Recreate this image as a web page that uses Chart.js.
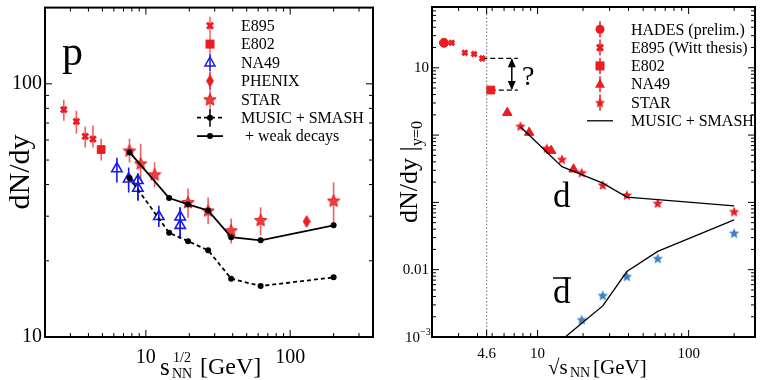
<!DOCTYPE html>
<html lang="en">
<head>
<meta charset="UTF-8">
<title>p and d yields vs energy</title>
<script src="https://cdn.jsdelivr.net/npm/chart.js@4/dist/chart.umd.min.js"></script>
<style>
  html, body { margin: 0; padding: 0; background: #fff; }
  #wrap { position: relative; width: 762px; height: 380px; }
  canvas { position: absolute; top: 0; }
  #left { left: 0; width: 390px; height: 380px; }
  #right { left: 390px; width: 372px; height: 380px; }
</style>
</head>
<body>
<div id="wrap">
  <canvas id="left" width="390" height="380"></canvas>
  <canvas id="right" width="372" height="380"></canvas>
</div>
<script>
// ---------- left panel: protons ----------
const e895Energy = [2.7, 3.3, 3.8, 4.3];
const e895P = [79, 71, 62, 60.5];
const e895PLo = [71.5, 63.6, 56, 56];
const e895PHi = [86.5, 78.3, 67.7, 68.4];

const e802Energy = [4.9];
const e802P = [55];
const e802PLo = [49.8];
const e802PHi = [60.7];

const na49Energy = [6.3, 7.6, 8.8, 8.8, 12.3, 17.3, 17.3];
const na49P = [46.2, 42.1, 41.5, 38.7, 29.9, 29.8, 27.6];
const na49PLo = [40.8, 37.2, 34.6, 34.6, 27.2, 24.5, 24.5];
const na49PHi = [51, 46.7, 44.2, 44.2, 33, 32.5, 32.5];

const phenixEnergy = [130];
const phenixP = [28.6];
const phenixPLo = [27.6];
const phenixPHi = [29.6];

const starEnergy = [7.7, 9.2, 11.5, 19.6, 27, 39, 62.4, 200];
const starP = [54.5, 48.5, 43.9, 34.1, 31.6, 26.4, 29.0, 34.6];
const starPLo = [48.9, 41.5, 39, 29.6, 27.9, 23.4, 25.2, 28.1];
const starPHi = [60.7, 58, 49, 38.6, 35.6, 29.4, 32.5, 40.8];

const modelEnergy = [7.7, 14.5, 19.6, 27, 39, 62.4, 200];
const modelP = [42.5, 25.8, 23.9, 22.0, 17.0, 15.9, 17.2];
const modelPWeak = [53.7, 35.4, 33.4, 31.6, 24.8, 24.1, 27.6];

const pTicksX = [10, 100];
const pTicksY = [10, 100];

// ---------- right panel: deuterons ----------
const hadesEnergy = [2.4];
const hadesD = [23.5];
const e895D = [23.5, 16.7, 16.0, 13.8];
const e802D = [4.67];
const na49DEnergy = [6.3, 8.8, 12.3, 17.3];
const na49D = [2.15, 1.09, 0.587, 0.311];
const starDEnergy = [7.7, 11.5, 14.5, 19.6, 27, 39, 62.4, 200];
const starD = [1.36, 0.638, 0.438, 0.277, 0.182, 0.129, 0.0975, 0.0731];
const modelD = [1.33, 0.340, 0.259, 0.193, 0.120, 0.110, 0.089];

const starAntiDEnergy = [19.6, 27, 39, 62.4, 200];
const starAntiD = [0.00181, 0.00416, 0.00796, 0.0147, 0.035];
const modelAntiDEnergy = [14.5, 19.6, 27, 39, 62.4, 200];
const modelAntiD = [0.00091, 0.0016, 0.0029, 0.0094, 0.0187, 0.0551];

const dTicksX = [4.6, 10, 100];
const dTicksY = [0.001, 0.01, 10];

const SERIF = '"Liberation Serif", "Times New Roman", serif';
Chart.defaults.font.family = SERIF;
Chart.defaults.color = '#000';

const RED = 'rgb(236,28,36)';
const RED_BAR = 'rgba(236,40,40,0.75)';
const BLUE = 'rgb(25,25,235)';
const SKY = 'rgb(58,128,196)';

function pts(xs, ys) {
    return xs.map((x, i) => ({ x: x, y: ys[i] }));
}

// five pointed star as a point style
function starImg(size, fill, edge) {
    const c = document.createElement('canvas');
    c.width = c.height = size;
    const g = c.getContext('2d');
    const r = size / 2 - 0.5, ri = r * 0.45, cx = size / 2, cy = size / 2 + r * 0.1;
    g.beginPath();
    for (let i = 0; i < 10; i++) {
        const a = -Math.PI / 2 + i * Math.PI / 5;
        const rr = i % 2 ? ri : r;
        g.lineTo(cx + rr * Math.cos(a), cy + rr * Math.sin(a));
    }
    g.closePath();
    g.fillStyle = fill;
    g.fill();
    if (edge) { g.strokeStyle = edge; g.lineWidth = 1; g.stroke(); }
    return c;
}

function diamondImg(w, h, fill) {
    const c = document.createElement('canvas');
    c.width = w; c.height = h;
    const g = c.getContext('2d');
    g.beginPath();
    g.moveTo(w / 2, 0); g.lineTo(w, h / 2); g.lineTo(w / 2, h); g.lineTo(0, h / 2);
    g.closePath();
    g.fillStyle = fill;
    g.fill();
    return c;
}

const starBig = starImg(14, 'rgb(240,60,60)', 'rgb(225,30,30)');
const starSmall = starImg(12, RED);
const starBlue = starImg(12, SKY);
const diamond = diamondImg(8, 13, RED);

// marks used in the hand drawn legends
function mark(ctx, kind, x, y, color) {
    ctx.save();
    ctx.fillStyle = color; ctx.strokeStyle = color;
    if (kind === 'x') {
        ctx.lineWidth = 3;
        ctx.beginPath();
        ctx.moveTo(x - 3, y - 3); ctx.lineTo(x + 3, y + 3);
        ctx.moveTo(x + 3, y - 3); ctx.lineTo(x - 3, y + 3);
        ctx.stroke();
    } else if (kind === 'sq') {
        ctx.fillRect(x - 4.5, y - 4.5, 9, 9);
    } else if (kind === 'tri' || kind === 'otri') {
        ctx.beginPath();
        ctx.moveTo(x, y - 5.5); ctx.lineTo(x + 5, y + 3.5); ctx.lineTo(x - 5, y + 3.5);
        ctx.closePath();
        if (kind === 'tri') ctx.fill(); else { ctx.lineWidth = 1.5; ctx.stroke(); }
    } else if (kind === 'circ') {
        ctx.beginPath(); ctx.arc(x, y, 4.5, 0, Math.PI * 2); ctx.fill();
    } else if (kind && kind.width) {
        ctx.drawImage(kind, x - kind.width / 2, y - kind.height / 2);
    }
    ctx.restore();
}

function drawLegend(ctx, items, sx, tx, y0, dy) {
    ctx.save();
    ctx.font = '16px ' + SERIF;
    ctx.textBaseline = 'middle';
    items.forEach((it, i) => {
        const y = y0 + i * dy;
        if (it.line) {
            ctx.strokeStyle = '#000'; ctx.lineWidth = it.lw || 1.8;
            ctx.setLineDash(it.line === 'dash' ? [4, 3] : []);
            ctx.beginPath(); ctx.moveTo(sx - 13, y); ctx.lineTo(sx + 13, y); ctx.stroke();
            ctx.setLineDash([]);
        }
        if (it.bar) {
            ctx.strokeStyle = it.barColor || it.color; ctx.lineWidth = 1.5;
            ctx.beginPath(); ctx.moveTo(sx, y - it.bar); ctx.lineTo(sx, y + it.bar); ctx.stroke();
        }
        if (it.dot) {
            ctx.fillStyle = '#000';
            ctx.beginPath(); ctx.arc(sx, y, 3, 0, Math.PI * 2); ctx.fill();
        }
        if (it.kind) mark(ctx, it.kind, sx, y, it.color);
        ctx.fillStyle = '#000';
        ctx.fillText(it.label, tx, y + 1);
    });
    ctx.restore();
}

// box with inward ticks on all four sides
function drawFrame(chart, major, minor, extraX) {
    const { ctx, chartArea: a, scales } = chart;
    ctx.save();
    ctx.strokeStyle = '#000';
    ctx.lineWidth = 1;
    [['x', scales.x], ['y', scales.y]].forEach(([k, s]) => {
        const lo = Math.floor(Math.log10(s.min)), hi = Math.ceil(Math.log10(s.max));
        const vals = [];
        for (let d = lo; d <= hi; d++) {
            for (let m = 1; m <= 9; m++) vals.push([m * Math.pow(10, d), m === 1]);
        }
        if (k === 'x' && extraX) extraX.forEach(v => vals.push([v, true]));
        vals.forEach(([v, big]) => {
            if (v < s.min * 0.999 || v > s.max * 1.001) return;
            const p = s.getPixelForValue(v);
            const len = big ? major : minor;
            ctx.beginPath();
            if (k === 'x') {
                ctx.moveTo(p, a.bottom); ctx.lineTo(p, a.bottom - len);
                ctx.moveTo(p, a.top); ctx.lineTo(p, a.top + len);
            } else {
                ctx.moveTo(a.left, p); ctx.lineTo(a.left + len, p);
                ctx.moveTo(a.right, p); ctx.lineTo(a.right - len, p);
            }
            ctx.stroke();
        });
    });
    ctx.lineWidth = 2;
    ctx.strokeRect(a.left, a.top, a.right - a.left, a.bottom - a.top);
    ctx.restore();
}

const errorBars = {
    id: 'errorBars',
    beforeDatasetsDraw(chart) {
        const { ctx, scales: { x, y } } = chart;
        ctx.save();
        ctx.lineWidth = 1.6;
        chart.data.datasets.forEach(ds => {
            if (!ds.errLo) return;
            ctx.strokeStyle = ds.barColor;
            ds.data.forEach((p, i) => {
                const px = x.getPixelForValue(p.x);
                ctx.beginPath();
                ctx.moveTo(px, y.getPixelForValue(ds.errLo[i]));
                ctx.lineTo(px, y.getPixelForValue(ds.errHi[i]));
                ctx.stroke();
            });
        });
        ctx.restore();
    }
};

function logAxis(min, max, ticks, fit, font, pad, fmt) {
    return {
        type: 'logarithmic', min: min, max: max,
        grid: { display: false, drawTicks: false }, border: { display: false },
        afterBuildTicks: s => { s.ticks = ticks.map(v => ({ value: v })); },
        afterFit: s => {
            if (s.isHorizontal()) { s.height = fit; s.paddingLeft = 0; s.paddingRight = 0; }
            else { s.width = fit; s.paddingTop = 0; s.paddingBottom = 0; }
        },
        ticks: { autoSkip: false, maxRotation: 0, padding: pad, color: '#000', font: { size: font }, callback: fmt || (v => String(v)) }
    };
}

// ---------- left chart ----------
new Chart(document.getElementById('left'), {
    type: 'scatter',
    data: {
        datasets: [
            { data: pts(modelEnergy, modelP), showLine: true, borderColor: '#000', borderWidth: 1.8, borderDash: [4, 3],
              pointRadius: 3, pointBackgroundColor: '#000', pointBorderWidth: 0 },
            { data: pts(modelEnergy, modelPWeak), showLine: true, borderColor: '#000', borderWidth: 1.8,
              pointRadius: 3, pointBackgroundColor: '#000', pointBorderWidth: 0 },
            { data: pts(e895Energy, e895P), pointStyle: 'crossRot', pointRadius: 4, pointBorderWidth: 3,
              borderColor: RED, errLo: e895PLo, errHi: e895PHi, barColor: RED_BAR },
            { data: pts(e802Energy, e802P), pointStyle: 'rect', pointRadius: 5.5, backgroundColor: RED, borderColor: RED,
              errLo: e802PLo, errHi: e802PHi, barColor: RED_BAR },
            { data: pts(na49Energy, na49P), pointStyle: 'triangle', pointRadius: 6, pointBorderWidth: 1.6,
              backgroundColor: 'rgba(255,255,255,0)', borderColor: BLUE, errLo: na49PLo, errHi: na49PHi, barColor: BLUE },
            { data: pts(phenixEnergy, phenixP), pointStyle: diamond, errLo: phenixPLo, errHi: phenixPHi, barColor: RED },
            { data: pts(starEnergy, starP), pointStyle: starBig, errLo: starPLo, errHi: starPHi, barColor: RED_BAR }
        ]
    },
    options: {
        responsive: false, animation: false, devicePixelRatio: 1,
        layout: { padding: { left: 0, right: 17, top: 6, bottom: 0 } },
        plugins: { legend: { display: false }, tooltip: { enabled: false } },
        scales: {
            x: logAxis(2, 375, pTicksX, 43, 20, 9),
            y: logAxis(10, 200, pTicksY, 45, 20, 3)
        }
    },
    plugins: [errorBars, {
        id: 'leftDeco',
        afterDraw(chart) {
            const ctx = chart.ctx;
            drawFrame(chart, 7, 4);
            ctx.save();
            ctx.fillStyle = '#000';
            ctx.font = '42px ' + SERIF;
            ctx.fillText('p', 62, 65);
            // x title
            ctx.font = '25px ' + SERIF;
            ctx.fillText('s', 160, 375);
            ctx.font = '14px ' + SERIF;
            ctx.fillText('1/2', 173, 362);
            ctx.fillText('NN', 172, 378);
            ctx.font = '24px ' + SERIF;
            ctx.fillText('[GeV]', 200, 374);
            // y title
            ctx.translate(29, 172);
            ctx.rotate(-Math.PI / 2);
            ctx.font = '30px ' + SERIF;
            ctx.textAlign = 'center';
            ctx.fillText('dN/dy', 0, 0);
            ctx.restore();
            drawLegend(ctx, [
                { label: 'E895', kind: 'x', color: RED, bar: 9, barColor: RED_BAR },
                { label: 'E802', kind: 'sq', color: RED, bar: 9, barColor: RED_BAR },
                { label: 'NA49', kind: 'otri', color: BLUE, bar: 9 },
                { label: 'PHENIX', kind: diamond, color: RED, bar: 9 },
                { label: 'STAR', kind: starBig, color: RED, bar: 9, barColor: RED_BAR },
                { label: 'MUSIC + SMASH', line: 'dash', dot: true, bar: 9, color: '#000' },
                { label: ' + weak decays', line: 'solid', dot: true, color: '#000' }
            ], 210, 241, 25.7, 18.4);
        }
    }]
});

// ---------- right chart ----------
new Chart(document.getElementById('right'), {
    type: 'scatter',
    data: {
        datasets: [
            { data: pts(starDEnergy.slice(0, 1).concat(modelEnergy.slice(1)), modelD), showLine: true, borderColor: '#000',
              borderWidth: 1.3, pointRadius: 0 },
            { data: pts(modelAntiDEnergy, modelAntiD), showLine: true, borderColor: '#000', borderWidth: 1.3, pointRadius: 0 },
            { data: pts(hadesEnergy, hadesD), pointStyle: 'circle', pointRadius: 4.5, backgroundColor: RED, borderColor: RED },
            { data: pts(e895Energy, e895D), pointStyle: 'crossRot', pointRadius: 3.5, pointBorderWidth: 3, borderColor: RED },
            { data: pts(e802Energy, e802D), pointStyle: 'rect', pointRadius: 5.5, backgroundColor: RED, borderColor: RED },
            { data: pts(na49DEnergy, na49D), pointStyle: 'triangle', pointRadius: 5.5, backgroundColor: RED, borderColor: RED },
            { data: pts(starDEnergy, starD), pointStyle: starSmall },
            { data: pts(starAntiDEnergy, starAntiD), pointStyle: starBlue }
        ]
    },
    options: {
        responsive: false, animation: false, devicePixelRatio: 1,
        layout: { padding: { left: 0, right: 5, top: 6, bottom: 0 } },
        plugins: { legend: { display: false }, tooltip: { enabled: false } },
        scales: {
            x: logAxis(2, 275, dTicksX, 43, 15, 8),
            y: logAxis(0.001, 80, dTicksY, 42, 15, 3, v => (v === 0.001 ? '' : String(v)))
        }
    },
    plugins: [{
        id: 'rightBack',
        beforeDatasetsDraw(chart) {
            const { ctx, chartArea: a, scales: { x, y } } = chart;
            ctx.save();
            // dotted marker at 4.6 GeV
            const px = x.getPixelForValue(4.6);
            ctx.strokeStyle = '#888'; ctx.lineWidth = 1.2; ctx.setLineDash([1.5, 2]);
            ctx.beginPath(); ctx.moveTo(px, a.top); ctx.lineTo(px, a.bottom); ctx.stroke();
            // the gap between E895 and E802
            ctx.strokeStyle = '#000'; ctx.setLineDash([5, 3]);
            const yTop = y.getPixelForValue(13.8), yBot = y.getPixelForValue(4.67);
            const xEnd = x.getPixelForValue(7.4);
            ctx.beginPath();
            ctx.moveTo(x.getPixelForValue(4.3), yTop); ctx.lineTo(xEnd, yTop);
            ctx.moveTo(x.getPixelForValue(4.9), yBot); ctx.lineTo(xEnd, yBot);
            ctx.stroke();
            ctx.setLineDash([]);
            const ax = x.getPixelForValue(6.75);
            ctx.lineWidth = 1.5;
            ctx.beginPath(); ctx.moveTo(ax, yTop + 1); ctx.lineTo(ax, yBot - 1); ctx.stroke();
            ctx.fillStyle = '#000';
            ctx.beginPath(); ctx.moveTo(ax, yTop); ctx.lineTo(ax - 4, yTop + 9); ctx.lineTo(ax + 4, yTop + 9); ctx.fill();
            ctx.beginPath(); ctx.moveTo(ax, yBot); ctx.lineTo(ax - 4, yBot - 9); ctx.lineTo(ax + 4, yBot - 9); ctx.fill();
            ctx.restore();
        },
        afterDraw(chart) {
            const { ctx, chartArea: a } = chart;
            drawFrame(chart, 7, 4, [4.6]);
            ctx.save();
            ctx.fillStyle = '#000';
            ctx.font = '28px ' + SERIF;
            ctx.fillText('?', 132, 85);
            ctx.font = '35px ' + SERIF;
            ctx.fillText('d', 163, 207);
            ctx.fillText('d', 163, 303);
            ctx.lineWidth = 1.5;
            ctx.beginPath(); ctx.moveTo(163, 278); ctx.lineTo(181, 278); ctx.stroke();
            // 10^-3 tick label
            ctx.font = '15px ' + SERIF;
            ctx.textAlign = 'right';
            ctx.fillText('10', a.left - 12, a.bottom + 5);
            ctx.font = '10px ' + SERIF;
            ctx.textAlign = 'left';
            ctx.fillText('\u22123', a.left - 12, a.bottom - 2);
            // x title
            ctx.font = '21px ' + SERIF;
            ctx.fillText('\u221As', 158, 374);
            ctx.font = '14px ' + SERIF;
            ctx.fillText('NN', 180, 377);
            ctx.font = '21px ' + SERIF;
            ctx.fillText('[GeV]', 203, 374);
            // y title
            ctx.translate(27, 172);
            ctx.rotate(-Math.PI / 2);
            ctx.font = '26px ' + SERIF;
            ctx.fillText('dN/dy |', -51, 0);
            ctx.font = '16px ' + SERIF;
            ctx.fillText('y=0', 26, 5);
            ctx.restore();
            drawLegend(ctx, [
                { label: 'HADES (prelim.)', kind: 'circ', color: RED, bar: 8 },
                { label: 'E895 (Witt thesis)', kind: 'x', color: RED, bar: 8 },
                { label: 'E802', kind: 'sq', color: RED, bar: 8 },
                { label: 'NA49', kind: 'tri', color: RED, bar: 8 },
                { label: 'STAR', kind: starSmall, color: RED, bar: 8 },
                { label: 'MUSIC + SMASH', line: 'solid', lw: 1.3, color: '#000' }
            ], 210, 241, 29.3, 18.3);
        }
    }]
});
</script>
</body>
</html>
